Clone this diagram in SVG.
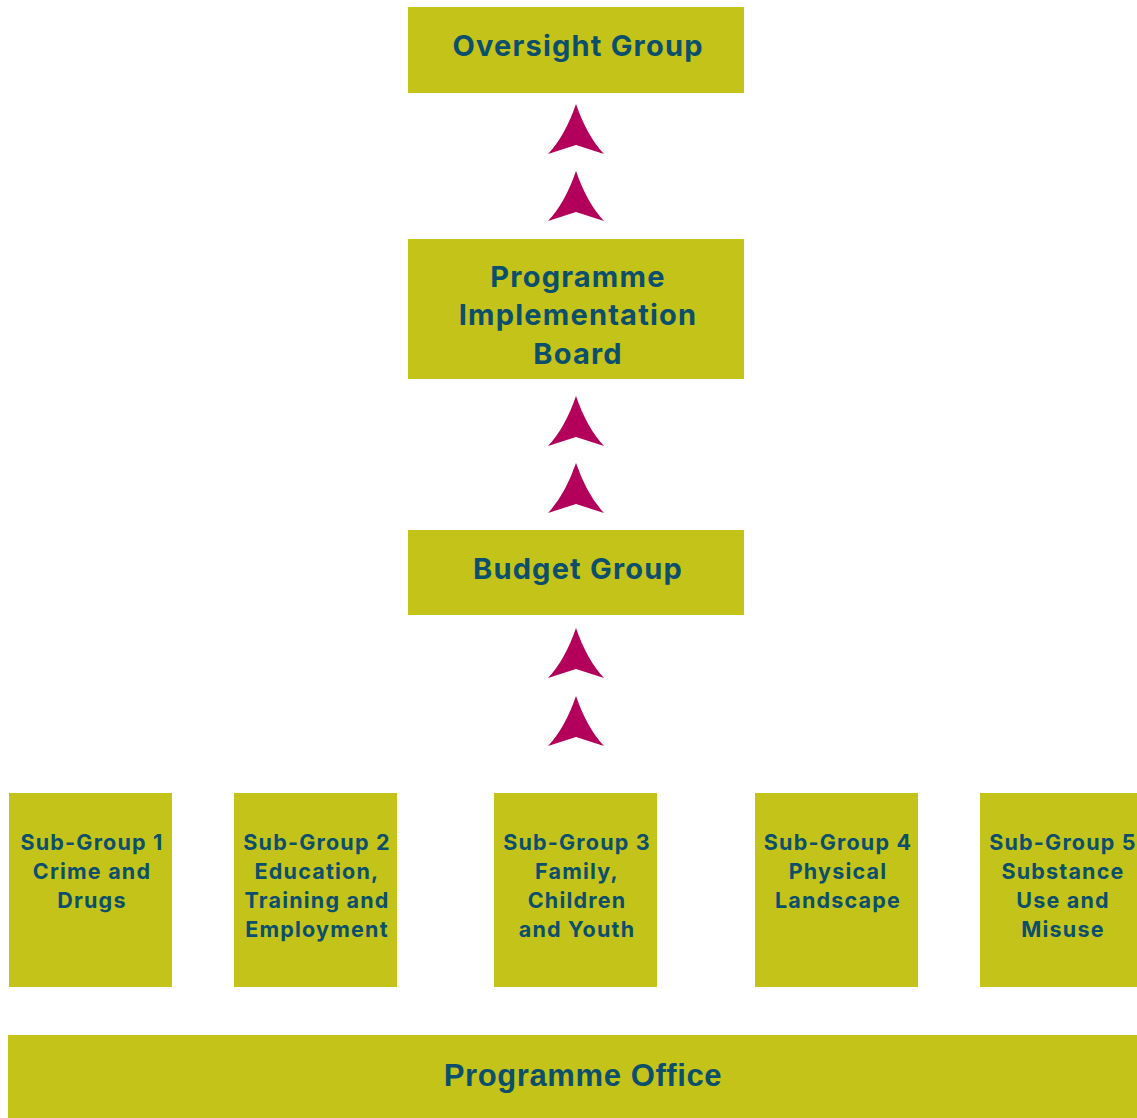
<svg xmlns="http://www.w3.org/2000/svg" width="1137" height="1118" viewBox="0 0 1137 1118">
  <defs>
    <style>
      .box { fill: #c4c319; }
      .lbl { fill: #0b4f6c; font-family: "Inter", "Open Sans", "Liberation Sans", sans-serif; font-weight: 700; text-anchor: middle; }
      .big { font-size: 29px; letter-spacing: 1.2px; }
      .small { font-size: 21.5px; letter-spacing: 1.2px; }
      .office { font-family: "Liberation Sans", Arial, sans-serif; font-size: 31px; letter-spacing: 0.6px; }
      .arrow { fill: #b3005a; }
    </style>
    <!-- concave-sided upward arrowhead, tip at origin -->
    <path id="up" class="arrow" d="M0,0 Q-11,32 -28,50 L0,41 L28,50 Q11,32 0,0 Z"/>
  </defs>

  <g id="oversight-group">
    <rect class="box" x="408" y="7" width="336" height="86"/>
    <text class="lbl big" x="578" y="56">Oversight Group</text>
  </g>

  <g id="programme-implementation-board">
    <rect class="box" x="408" y="239" width="336" height="140"/>
    <text class="lbl big" x="578" y="287">Programme</text>
    <text class="lbl big" x="578" y="325">Implementation</text>
    <text class="lbl big" x="578" y="364">Board</text>
  </g>

  <g id="budget-group">
    <rect class="box" x="408" y="530" width="336" height="85"/>
    <text class="lbl big" x="578" y="579">Budget Group</text>
  </g>

  <g id="sub-group-1">
    <rect class="box" x="9" y="793" width="163" height="194"/>
    <text class="lbl small" x="92" y="850">Sub-Group 1</text>
    <text class="lbl small" x="92" y="879">Crime and</text>
    <text class="lbl small" x="92" y="908">Drugs</text>
  </g>

  <g id="sub-group-2">
    <rect class="box" x="234" y="793" width="163" height="194"/>
    <text class="lbl small" x="317" y="850">Sub-Group 2</text>
    <text class="lbl small" x="317" y="879">Education,</text>
    <text class="lbl small" x="317" y="908">Training and</text>
    <text class="lbl small" x="317" y="937">Employment</text>
  </g>

  <g id="sub-group-3">
    <rect class="box" x="494" y="793" width="163" height="194"/>
    <text class="lbl small" x="577" y="850">Sub-Group 3</text>
    <text class="lbl small" x="577" y="879">Family,</text>
    <text class="lbl small" x="577" y="908">Children</text>
    <text class="lbl small" x="577" y="937">and Youth</text>
  </g>

  <g id="sub-group-4">
    <rect class="box" x="755" y="793" width="163" height="194"/>
    <text class="lbl small" x="838" y="850">Sub-Group 4</text>
    <text class="lbl small" x="838" y="879">Physical</text>
    <text class="lbl small" x="838" y="908">Landscape</text>
  </g>

  <g id="sub-group-5">
    <rect class="box" x="980" y="793" width="157" height="194"/>
    <text class="lbl small" x="1063" y="850">Sub-Group 5</text>
    <text class="lbl small" x="1063" y="879">Substance</text>
    <text class="lbl small" x="1063" y="908">Use and</text>
    <text class="lbl small" x="1063" y="937">Misuse</text>
  </g>

  <g id="programme-office">
    <rect class="box" x="8" y="1035" width="1129" height="83"/>
    <text class="lbl office" x="583" y="1086">Programme Office</text>
  </g>

  <g id="connectors">
    <use href="#up" x="576" y="104"/>
    <use href="#up" x="576" y="171"/>
    <use href="#up" x="576" y="396"/>
    <use href="#up" x="576" y="463"/>
    <use href="#up" x="576" y="628"/>
    <use href="#up" x="576" y="696"/>
  </g>
</svg>
